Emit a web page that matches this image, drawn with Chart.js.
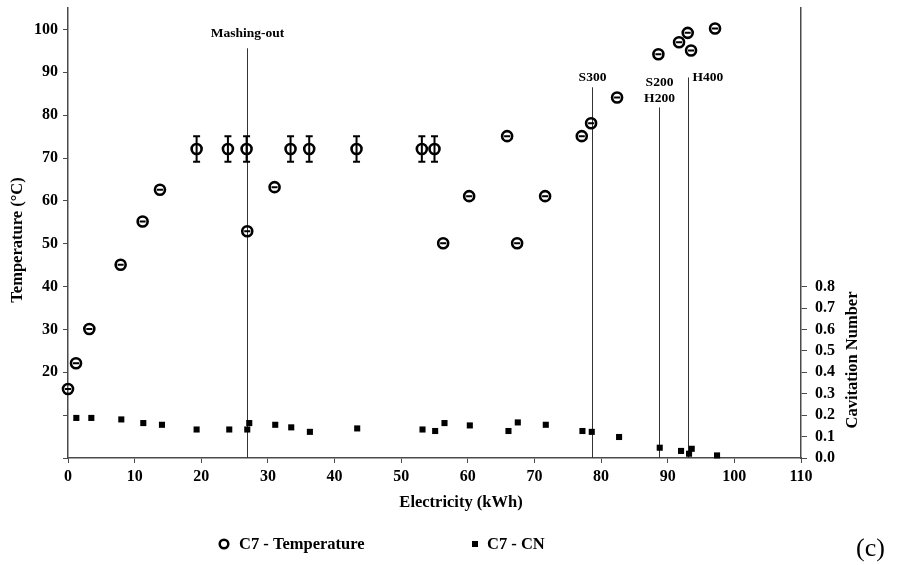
<!DOCTYPE html>
<html><head><meta charset="utf-8">
<script src="https://cdn.jsdelivr.net/npm/chart.js@4.4.1/dist/chart.umd.min.js"></script>
<style>html,body{margin:0;padding:0;background:#fff;} canvas{display:block;}</style>
</head><body>
<canvas id="c" width="897" height="565"></canvas>
<script>
// ---- data ----
const tempX = [0, 1.2, 3.2, 7.9, 11.2, 13.8, 19.3, 24.0, 26.8, 26.9, 31.0, 33.4, 36.2, 43.3, 53.1, 55.0, 56.3, 60.2, 65.9, 67.4, 71.6, 77.1, 78.5, 82.4, 88.6, 91.7, 93.0, 93.5, 97.1];
const tempY = [16.1, 22.1, 30.1, 45.1, 55.2, 62.6, 72.1, 72.1, 72.1, 52.9, 63.2, 72.1, 72.1, 72.1, 72.1, 72.1, 50.1, 61.1, 75.1, 50.1, 61.1, 75.1, 78.1, 84.1, 94.2, 97.0, 99.2, 95.1, 100.2];
const tempErr = [0, 0, 0, 0, 0, 0, 3, 3, 3, 0, 0, 3, 3, 3, 3, 3, 0, 0, 0, 0, 0, 0, 0, 0, 0, 0, 0, 0, 0];
const cnX = [1.25, 3.5, 8.0, 11.3, 14.1, 19.3, 24.2, 26.9, 27.2, 31.1, 33.5, 36.3, 43.4, 53.2, 55.1, 56.5, 60.3, 66.1, 67.5, 71.7, 77.2, 78.6, 82.7, 88.8, 92.0, 93.2, 93.6, 97.4];
const cnY = [0.187, 0.187, 0.180, 0.163, 0.155, 0.133, 0.133, 0.133, 0.163, 0.155, 0.143, 0.122, 0.138, 0.133, 0.126, 0.163, 0.152, 0.126, 0.166, 0.155, 0.126, 0.122, 0.098, 0.048, 0.033, 0.020, 0.043, 0.012];
const eventX = [26.8, 78.6, 88.7, 93.1];
const eventTop = [95.6, 86.5, 81.8, 88.8];
const eventLabels = [["Mashing-out"], ["S300"], ["S200", "H200"], ["H400"]];
const xTicks = [0, 10, 20, 30, 40, 50, 60, 70, 80, 90, 100, 110];
const tempTicks = [0, 10, 20, 30, 40, 50, 60, 70, 80, 90, 100];
const cnTicks = [0, 0.1, 0.2, 0.3, 0.4, 0.5, 0.6, 0.7, 0.8];
const seriesNames = ["C7 - Temperature", "C7 - CN"];

// ---- style ----
const FONT = '"Liberation Serif", "Times New Roman", serif';
const AX = '#4a4a4a';
// label placement per event: [align, dx, dy of first line center relative to line top]
const eventLabelStyle = [["center", 0, -15], ["center", 0, -10], ["center", 0, -25], ["left", 4, 0]];

const plugin = {
  id: 'extras',
  beforeDatasetsDraw(chart) {
    const ctx = chart.ctx, xs = chart.scales.x, ys = chart.scales.y;
    ctx.save();
    ctx.strokeStyle = '#333'; ctx.lineWidth = 1;
    ctx.fillStyle = '#000';
    ctx.font = 'bold 13.5px ' + FONT;
    ctx.textBaseline = 'middle';
    eventX.forEach((x, i) => {
      const px = Math.round(xs.getPixelForValue(x)) + 0.5;
      const top = ys.getPixelForValue(eventTop[i]);
      ctx.beginPath(); ctx.moveTo(px, top); ctx.lineTo(px, ys.bottom); ctx.stroke();
      const st = eventLabelStyle[i];
      ctx.textAlign = st[0];
      eventLabels[i].forEach((t, j) => {
        ctx.fillText(t, px + st[1], top + st[2] + j * 16);
      });
    });
    ctx.restore();
  },
  afterDatasetsDraw(chart) {
    const ctx = chart.ctx, xs = chart.scales.x, ys = chart.scales.y;
    ctx.save();
    ctx.strokeStyle = '#000'; ctx.lineWidth = 2;
    tempX.forEach((x, i) => {
      const px = xs.getPixelForValue(x);
      const y0 = ys.getPixelForValue(tempY[i] - tempErr[i]);
      const y1 = ys.getPixelForValue(tempY[i] + tempErr[i]);
      const cw = tempErr[i] > 0 ? 3.5 : 3;
      ctx.beginPath();
      ctx.moveTo(px, y0); ctx.lineTo(px, y1);
      ctx.moveTo(px - cw, y0); ctx.lineTo(px + cw, y0);
      ctx.moveTo(px - cw, y1); ctx.lineTo(px + cw, y1);
      ctx.stroke();
    });
    ctx.restore();
  },
  afterDraw(chart) {
    const ctx = chart.ctx;
    ctx.save();
    ctx.fillStyle = '#000';
    ctx.font = 'bold 16.5px ' + FONT;
    ctx.textBaseline = 'middle';
    ctx.textAlign = 'center';
    ctx.fillText('Electricity (kWh)', 461, 503);
    ctx.save(); ctx.translate(18, 240); ctx.rotate(-Math.PI / 2);
    ctx.fillText('Temperature (\u00B0C)', 0, 0); ctx.restore();
    ctx.save(); ctx.translate(853, 360); ctx.rotate(-Math.PI / 2);
    ctx.fillText('Cavitation Number', 0, 0); ctx.restore();
    ctx.textAlign = 'left';
    ctx.lineWidth = 2.5; ctx.strokeStyle = '#000';
    ctx.beginPath(); ctx.arc(224, 544, 4.3, 0, Math.PI * 2); ctx.stroke();
    ctx.fillText(seriesNames[0], 239, 545);
    ctx.fillRect(472, 541, 6, 6);
    ctx.fillText(seriesNames[1], 487, 545);
    ctx.font = '26px ' + FONT;
    ctx.fillText('(c)', 856, 549);
    ctx.restore();
  }
};

new Chart(document.getElementById('c'), {
  type: 'scatter',
  data: {
    datasets: [
      {
        label: seriesNames[0],
        data: tempX.map((x, i) => ({ x: x, y: tempY[i] })),
        yAxisID: 'y', clip: false,
        pointStyle: 'circle', pointRadius: 5, pointBorderWidth: 2.6,
        borderColor: '#000', backgroundColor: 'rgba(0,0,0,0)', showLine: false
      },
      {
        label: seriesNames[1],
        data: cnX.map((x, i) => ({ x: x, y: cnY[i] })),
        yAxisID: 'y2', clip: false,
        pointStyle: 'rect', pointRadius: 4.3, pointBorderWidth: 0,
        borderColor: '#000', backgroundColor: '#000', showLine: false
      }
    ]
  },
  options: {
    responsive: false, animation: false,
    layout: { padding: { top: 0, left: 0, right: 0, bottom: 0 } },
    plugins: { legend: { display: false }, tooltip: { enabled: false } },
    scales: {
      x: {
        type: 'linear', min: 0, max: 110,
        afterBuildTicks: s => { s.ticks = xTicks.map(v => ({ value: v })); },
        afterFit: s => { s.height = 107; },
        grid: { drawOnChartArea: false, drawTicks: true, tickLength: 5, color: AX, lineWidth: 1 },
        border: { display: true, color: AX, width: 1.5 },
        ticks: { color: '#000', font: { family: FONT, size: 16, weight: 'bold' }, padding: 4 }
      },
      y: {
        type: 'linear', position: 'left', min: 0, max: 105,
        afterBuildTicks: s => { s.ticks = tempTicks.map(v => ({ value: v })); },
        afterFit: s => { s.width = 68; s.paddingTop = 8; },
        grid: { drawOnChartArea: false, drawTicks: true, tickLength: 5, color: AX, lineWidth: 1 },
        border: { display: true, color: AX, width: 1.5 },
        ticks: { color: '#000', font: { family: FONT, size: 16, weight: 'bold' }, padding: 5,
          callback: v => (v >= 20 ? String(v) : '') }
      },
      y2: {
        type: 'linear', position: 'right', min: 0, max: 2.1,
        afterBuildTicks: s => { s.ticks = cnTicks.map(v => ({ value: v })); },
        afterFit: s => { s.width = 96; s.paddingTop = 8; },
        grid: { drawOnChartArea: false, drawTicks: true, tickLength: 6, color: AX, lineWidth: 1 },
        border: { display: true, color: AX, width: 1.5 },
        ticks: { color: '#000', font: { family: FONT, size: 16, weight: 'bold' }, padding: 8,
          callback: v => Number(v).toFixed(1) }
      }
    }
  },
  plugins: [plugin]
});
</script>
</body></html>
